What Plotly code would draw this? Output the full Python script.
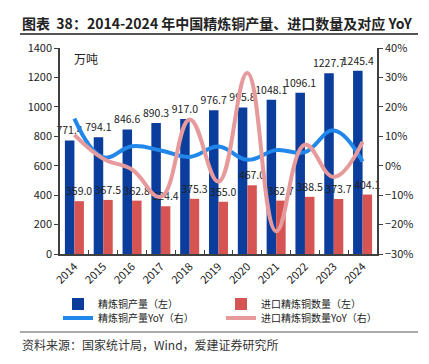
import plotly.graph_objects as go

years = ["2014", "2015", "2016", "2017", "2018", "2019", "2020", "2021", "2022", "2023", "2024"]
production = [771.4, 794.1, 846.6, 890.3, 917.0, 976.7, 995.8, 1048.1, 1096.1, 1227.7, 1245.4]
imports = [359.0, 367.5, 362.8, 324.4, 375.3, 355.0, 467.0, 362.7, 388.5, 373.7, 404.1]
production_yoy = [16.0, 2.9, 6.6, 5.2, 3.0, 6.5, 2.0, 5.3, 4.6, 12.0, 1.4]
imports_yoy = [10.5, 2.4, -1.3, -10.6, 15.7, -5.4, 31.5, -22.3, 7.1, -3.8, 8.1]

C_BLUE_BAR = "#0b3d9c"
C_RED_BAR = "#d65452"
C_BLUE_LINE = "#2287ea"
C_PINK_LINE = "#e79a9c"
FONT = "Noto Sans CJK SC"

W, H = 429, 364
ML, MR, MT, MB = 60, 52, 48, 110


def px_x(px):
    return (px - ML) / (W - ML - MR)


def px_y(py):
    return (H - MB - py) / (H - MT - MB)


fig = go.Figure()
fig.add_trace(go.Bar(x=years, y=production, name="精炼铜产量（左）", legend="legend",
                     marker=dict(color=C_BLUE_BAR, line=dict(width=0)),
                     text=[f"{v:.1f}" for v in production], textposition="outside",
                     constraintext="none", cliponaxis=False,
                     outsidetextfont=dict(family=FONT, size=10.5, color="#222")))
fig.add_trace(go.Bar(x=years, y=imports, name="进口精炼铜数量（左）", legend="legend",
                     marker=dict(color=C_RED_BAR, line=dict(width=0)),
                     text=[f"{v:.1f}" for v in imports], textposition="outside",
                     constraintext="none", cliponaxis=False,
                     outsidetextfont=dict(family=FONT, size=10.5, color="#222")))
fig.add_trace(go.Scatter(x=years, y=production_yoy, name="精炼铜产量YoY（右）", yaxis="y2",
                         legend="legend2", mode="lines",
                         line=dict(color=C_BLUE_LINE, width=4, shape="spline", smoothing=1.2)))
fig.add_trace(go.Scatter(x=years, y=imports_yoy, name="进口精炼铜数量YoY（右）", yaxis="y2",
                         legend="legend2", mode="lines",
                         line=dict(color=C_PINK_LINE, width=4, shape="spline", smoothing=1.2)))

leg_common = dict(orientation="h", xanchor="left", yanchor="middle",
                  entrywidth=118, entrywidthmode="pixels", itemwidth=30,
                  font=dict(family=FONT, size=10, color="#222"), tracegroupgap=0,
                  bgcolor="rgba(0,0,0,0)")

fig.update_layout(
    width=W, height=H,
    margin=dict(l=ML, r=MR, t=MT, b=MB),
    paper_bgcolor="white", plot_bgcolor="white",
    font=dict(family=FONT, size=11, color="#222"),
    barmode="group", bargap=0.34, bargroupgap=0,
    showlegend=True,
    legend=dict(x=px_x(58), y=px_y(304), **leg_common),
    legend2=dict(x=px_x(58), y=px_y(318), **leg_common),
    xaxis=dict(type="category", showline=True, linecolor="#404040", linewidth=1.5,
               ticks="inside", tickson="boundaries", ticklen=4, tickcolor="#404040",
               tickangle=-45, tickfont=dict(size=11), showgrid=False),
    yaxis=dict(range=[0, 1400], dtick=200, showline=True, linecolor="#404040", linewidth=1.5,
               ticks="outside", ticklen=4, tickcolor="#404040", showgrid=False, zeroline=False,
               tickfont=dict(size=11)),
    yaxis2=dict(range=[-30, 40], dtick=10, overlaying="y", side="right", ticksuffix="%",
                showline=True, linecolor="#404040", linewidth=1.5, ticks="outside", ticklen=4,
                tickcolor="#404040", showgrid=False, zeroline=False, tickfont=dict(size=11)),
)

fig.add_annotation(x=px_x(72), y=px_y(58), xref="paper", yref="paper", yanchor="middle",
                   xanchor="left", showarrow=False, text="万吨",
                   font=dict(family=FONT, size=12, color="#222"))
fig.add_annotation(x=px_x(20), y=px_y(23), xref="paper", yref="paper", yanchor="middle",
                   xanchor="left", showarrow=False,
                   text="<b>图表  38：2014-2024 年中国精炼铜产量、进口数量及对应 YoY</b>",
                   font=dict(family=FONT, size=14, color="#222"))
fig.add_annotation(x=px_x(20), y=px_y(344), xref="paper", yref="paper", yanchor="middle",
                   xanchor="left", showarrow=False,
                   text="资料来源：国家统计局，Wind，爱建证券研究所",
                   font=dict(family=FONT, size=12, color="#333"))

fig.add_shape(type="line", xref="paper", yref="paper", x0=px_x(20), x1=px_x(418),
              y0=px_y(34), y1=px_y(34), line=dict(color="#555", width=2))
fig.add_shape(type="line", xref="paper", yref="paper", x0=px_x(20), x1=px_x(418),
              y0=px_y(332), y1=px_y(332), line=dict(color="#555", width=1))

fig.write_html("out.html", config={"displayModeBar": False},
               post_script="document.body.style.margin='0';document.body.style.padding='0';")
